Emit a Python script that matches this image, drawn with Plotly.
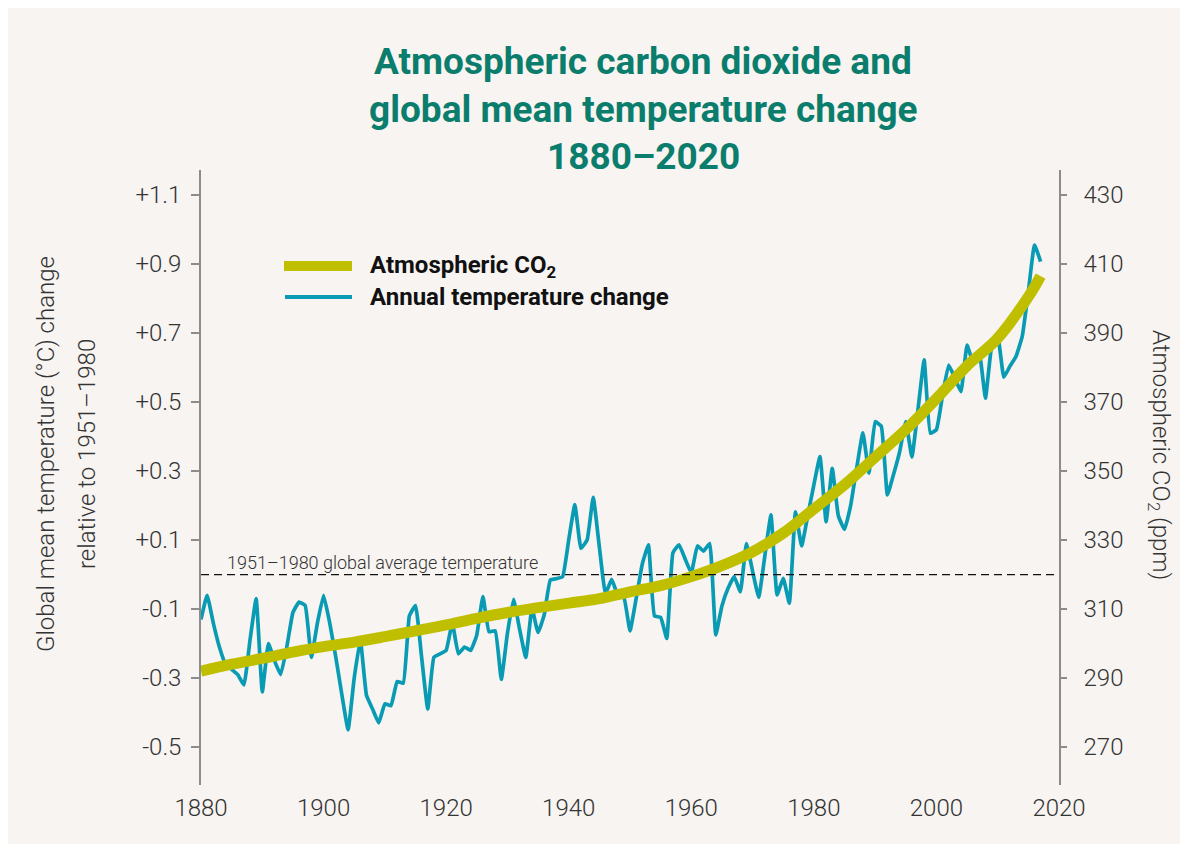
import plotly.graph_objects as go

# ---------------- data ----------------
temp_years = list(range(1880, 2018))
temp_change = [
    -0.13, -0.06, -0.14, -0.21, -0.26, -0.275, -0.29, -0.32, -0.19, -0.07,   # 1880-1889
    -0.34, -0.20, -0.25, -0.29, -0.21, -0.11, -0.08, -0.09, -0.24, -0.14,    # 1890-1899
    -0.06, -0.14, -0.24, -0.35, -0.45, -0.30, -0.19, -0.35, -0.39, -0.43,    # 1900-1909
    -0.375, -0.38, -0.31, -0.315, -0.12, -0.09, -0.24, -0.39, -0.24, -0.23,  # 1910-1919
    -0.22, -0.14, -0.23, -0.21, -0.22, -0.175, -0.064, -0.166, -0.163, -0.304,  # 1920-1929
    -0.17, -0.072, -0.16, -0.24, -0.098, -0.168, -0.117, -0.016, -0.012, -0.006,  # 1930-1939
    0.10, 0.203, 0.076, 0.100, 0.224, 0.08, -0.056, -0.014, -0.059, -0.066,  # 1940-1949
    -0.163, -0.07, 0.03, 0.086, -0.120, -0.124, -0.185, 0.063, 0.086, 0.045,  # 1950-1959
    0.005, 0.083, 0.068, 0.090, -0.175, -0.091, -0.04, -0.006, -0.05, 0.09,   # 1960-1969
    0.01, -0.066, 0.054, 0.173, -0.059, -0.011, -0.083, 0.182, 0.083, 0.17,   # 1970-1979
    0.26, 0.342, 0.153, 0.308, 0.17, 0.131, 0.20, 0.31, 0.411, 0.294,         # 1980-1989
    0.443, 0.43, 0.231, 0.29, 0.356, 0.443, 0.341, 0.48, 0.622, 0.41,         # 1990-1999
    0.42, 0.52, 0.607, 0.57, 0.53, 0.665, 0.614, 0.639, 0.511, 0.660,         # 2000-2009
    0.691, 0.572, 0.604, 0.633, 0.69, 0.82, 0.955, 0.907,                     # 2010-2017
]

co2_years = [1880, 1885, 1890, 1895, 1900, 1905, 1910, 1915, 1920, 1925,
             1930, 1935, 1940, 1945, 1950, 1955, 1960, 1965, 1970, 1975,
             1980, 1985, 1990, 1995, 2000, 2005, 2010, 2015, 2017]
co2_ppm = [292.0, 294.0, 295.7, 297.5, 299.1, 300.4, 302.0, 303.7, 305.4, 307.3,
           309.0, 310.4, 311.7, 313.0, 315.0, 316.8, 319.4, 322.6, 326.6, 332.0,
           339.0, 346.0, 354.0, 362.0, 371.0, 380.5, 388.5, 400.5, 406.5]

temp_ticks = [-0.5, -0.3, -0.1, 0.1, 0.3, 0.5, 0.7, 0.9, 1.1]
temp_tick_labels = ["-0.5", "-0.3", "-0.1", "+0.1", "+0.3", "+0.5", "+0.7", "+0.9", "+1.1"]
co2_ticks = [270, 290, 310, 330, 350, 370, 390, 410, 430]
year_ticks = [1880, 1900, 1920, 1940, 1960, 1980, 2000, 2020]

title_lines = ["Atmospheric carbon dioxide and",
               "global mean temperature change",
               "1880\u20132020"]
left_title_lines = ["Global mean temperature (\u00b0C) change",
                    "relative to 1951\u20131980"]
right_title = "Atmospheric CO<sub>2</sub> (ppm)"
baseline_label = "1951\u20131980 global average temperature"
legend_labels = ["Atmospheric CO<sub>2</sub>", "Annual temperature change"]

# ---------------- styles ----------------
BG = "#f7f4f1"
TEAL_TITLE = "#0b7d6d"
CO2_COLOR = "#bfbf00"
TEMP_COLOR = "#0a9bb4"
TEXT = "#333333"
AXIS = "#8c8c8c"
FONT = "Roboto"

W, H = 1188, 844
L, R, T, B = 193, 137, 162, 67
PW, PH = W - L - R, H - T - B


def px(xr):
    """reference-picture x pixel -> paper fraction of plot area"""
    return (xr - 8 - L) / PW


def py(yr):
    """reference-picture y pixel -> paper fraction of plot area"""
    return (H - B - (yr - 8)) / PH


fig = go.Figure()

fig.add_trace(go.Scatter(
    x=co2_years, y=co2_ppm, yaxis="y2", mode="lines",
    line=dict(color=CO2_COLOR, width=11, shape="spline", smoothing=1.0),
    name=legend_labels[0], showlegend=False, hoverinfo="skip"))

fig.add_trace(go.Scatter(
    x=temp_years, y=temp_change, mode="lines",
    line=dict(color=TEMP_COLOR, width=3.7, shape="spline", smoothing=0.35),
    name=legend_labels[1], showlegend=False))

# baseline dashed line
fig.add_shape(type="line", xref="x", yref="y", x0=1880, x1=2020, y0=0, y1=0,
              line=dict(color="#111111", width=1.3, dash="8px,5px"), layer="above")

annotations = []
annotations.append(dict(x=1883.9, y=0.036, xref="x", yref="y", text=baseline_label,
                        showarrow=False, xanchor="left", yanchor="middle",
                        font=dict(family=FONT, size=18, color=TEXT, weight=300)))

# title, one annotation per line
for i, line in enumerate(title_lines):
    annotations.append(dict(x=px(643), y=py(61 + 48 * i), xref="paper", yref="paper",
                            text=line, showarrow=False, xanchor="center", yanchor="middle",
                            font=dict(family=FONT, size=37, color=TEAL_TITLE, weight=700)))

# axis titles
for xr, line in zip([46, 87], left_title_lines):
    annotations.append(dict(x=px(xr), y=py(454), xref="paper", yref="paper", text=line,
                            showarrow=False, textangle=-90, xanchor="center", yanchor="middle",
                            font=dict(family=FONT, size=24, color=TEXT, weight=300)))
annotations.append(dict(x=px(1160), y=py(455), xref="paper", yref="paper", text=right_title,
                        showarrow=False, textangle=90, xanchor="center", yanchor="middle",
                        font=dict(family=FONT, size=24, color=TEXT, weight=300)))

# manual legend
leg_y = [py(266), py(297)]
fig.add_shape(type="line", xref="paper", yref="paper", x0=px(284), x1=px(352), y0=leg_y[0], y1=leg_y[0],
              line=dict(color=CO2_COLOR, width=10))
fig.add_shape(type="line", xref="paper", yref="paper", x0=px(285), x1=px(352), y0=leg_y[1], y1=leg_y[1],
              line=dict(color=TEMP_COLOR, width=4))
for lbl, yy in zip(legend_labels, leg_y):
    annotations.append(dict(x=px(368), y=yy, xref="paper", yref="paper", text=lbl, showarrow=False,
                            xanchor="left", yanchor="middle",
                            font=dict(family=FONT, size=24, color="#111111", weight=700)))

tickfont = dict(family=FONT, size=24, color=TEXT, weight=300)

fig.update_layout(
    width=W, height=H,
    margin=dict(l=L, r=R, t=T, b=B, autoexpand=False),
    paper_bgcolor=BG, plot_bgcolor=BG,
    showlegend=False,
    annotations=annotations,
    xaxis=dict(range=[1880, 2020], tickvals=year_ticks, showgrid=False, zeroline=False,
               showline=False, ticks="", tickfont=tickfont, ticklabelstandoff=6,
               fixedrange=True),
    yaxis=dict(range=[-0.61, 1.1725], tickvals=temp_ticks, ticktext=temp_tick_labels,
               showgrid=False, zeroline=False, showline=True, linecolor=AXIS, linewidth=1.5,
               ticks="outside", ticklen=8, tickcolor=AXIS, tickwidth=1.5,
               tickfont=tickfont, ticklabelstandoff=5),
    yaxis2=dict(range=[259.0, 437.25], tickvals=co2_ticks, overlaying="y", side="right",
                showgrid=False, zeroline=False, showline=True, linecolor=AXIS, linewidth=1.5,
                ticks="outside", ticklen=6, tickcolor=AXIS, tickwidth=1.5,
                tickfont=tickfont, ticklabelstandoff=12),
    yaxis3=dict(range=[259.0, 437.25], tickvals=co2_ticks, overlaying="y", side="right",
                showgrid=False, zeroline=False, showline=False, showticklabels=False,
                ticks="inside", ticklen=6, tickcolor=AXIS, tickwidth=1.5),
)

fig.write_html("out.html")
